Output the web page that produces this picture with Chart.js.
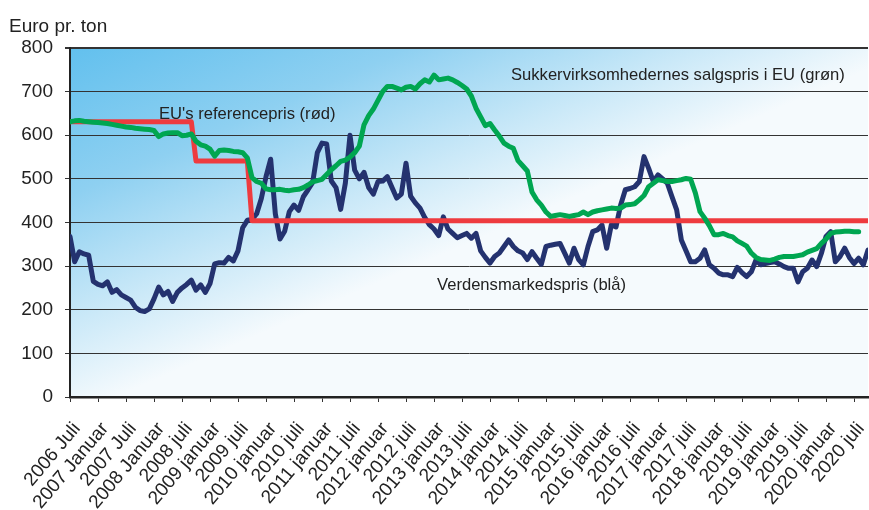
<!DOCTYPE html>
<html>
<head>
<meta charset="utf-8">
<script src="https://cdn.jsdelivr.net/npm/chart.js@4.4.1/dist/chart.umd.min.js"></script>
<style>
html, body { margin: 0; padding: 0; background: #fff; }
#wrap { width: 869px; height: 510px; }
</style>
</head>
<body>
<div id="wrap"><canvas id="sugarChart" width="869" height="510"></canvas></div>
<script>
// x labels every 6 months, starting 2006 Juli (month index 0)
const tickLabels = [
    "2006 Juli", "2007 Januar", "2007 Juli", "2008 Januar", "2008 juli", "2009 januar",
    "2009 juli", "2010 januar", "2010 juli", "2011 januar", "2011 juli", "2012 januar",
    "2012 juli", "2013 januar", "2013 juli", "2014 januar", "2014 juli", "2015 januar",
    "2015 juli", "2016 januar", "2016 juli", "2017 januar", "2017 juli", "2018 januar",
    "2018 juli", "2019 januar", "2019 juli", "2020 januar", "2020 juli"
];

// Sukkervirksomhedernes salgspris i EU (grøn), monthly from 2006 Juli
const euSalesPrice = [
    631, 633, 634, 632, 631, 630, 629, 628, 627, 625, 623, 621,
    619, 618, 616, 615, 614, 613, 611, 597, 603, 605, 606, 606,
    599, 600, 603, 586, 578, 575, 568, 552, 565, 566, 565, 563,
    562, 560, 548, 503, 494, 490, 477, 475, 475, 476, 474, 473,
    475, 476, 480, 486, 493, 496, 499, 510, 521, 530, 540, 543,
    550, 560, 575, 624, 645, 660, 680, 700, 712, 712, 708, 704,
    710, 712, 706, 718, 727, 722, 738, 727, 729, 731, 727, 721,
    714, 706, 690, 662, 642, 622, 627, 612, 598, 582, 575, 570,
    542, 530, 518, 470, 452, 440, 424, 414, 416, 418, 416, 414,
    416, 418, 424, 418, 424, 427, 429, 431, 433, 432, 433, 440,
    441, 443, 452, 462, 482, 490, 498, 496, 494, 494, 496, 498,
    501, 499, 468, 425, 410, 393, 372, 372, 375, 370, 367, 358,
    352, 346, 330, 320, 315, 314, 313, 316, 320, 322, 322, 322,
    324, 326, 332, 336, 340, 352, 362, 375, 378, 379, 380, 380,
    379, 379
];

// EU's referencepris (rød)
const refPrice = [
    631, 631, 631, 631, 631, 631, 631, 631, 631, 631, 631, 631,
    631, 631, 631, 631, 631, 631, 631, 631, 631, 631, 631, 631,
    631, 631, 631, 541, 541, 541, 541, 541, 541, 541, 541, 541,
    541, 541, 541, 404, 404, 404, 404, 404, 404, 404, 404, 404,
    404, 404, 404, 404, 404, 404, 404, 404, 404, 404, 404, 404,
    404, 404, 404, 404, 404, 404, 404, 404, 404, 404, 404, 404,
    404, 404, 404, 404, 404, 404, 404, 404, 404, 404, 404, 404,
    404, 404, 404, 404, 404, 404, 404, 404, 404, 404, 404, 404,
    404, 404, 404, 404, 404, 404, 404, 404, 404, 404, 404, 404,
    404, 404, 404, 404, 404, 404, 404, 404, 404, 404, 404, 404,
    404, 404, 404, 404, 404, 404, 404, 404, 404, 404, 404, 404,
    404, 404, 404, 404, 404, 404, 404, 404, 404, 404, 404, 404,
    404, 404, 404, 404, 404, 404, 404, 404, 404, 404, 404, 404,
    404, 404, 404, 404, 404, 404, 404, 404, 404, 404, 404, 404,
    404, 404, 404, 404
];

// Verdensmarkedspris (blå)
const worldPrice = [
    368, 310, 333, 328, 325, 265, 258, 255, 264, 240, 246, 234,
    228, 222, 206, 198, 196, 202, 225, 252, 234, 242, 219, 240,
    250, 258, 268, 245, 257, 240, 260, 305, 308, 307, 320, 312,
    335, 388, 405, 407, 420, 455, 505, 545, 420, 362, 380, 425,
    440, 428, 459, 475, 492, 560, 582, 580, 495, 480, 430, 490,
    600, 520, 500, 515, 480, 465, 494, 495, 505, 480, 456, 465,
    536, 460, 445, 433, 412, 395, 385, 370, 413, 385, 375, 365,
    370, 375, 364, 375, 335, 320, 307, 322, 330, 345, 360, 345,
    335, 330, 315, 333, 318, 304, 345, 348, 350, 352, 330, 307,
    341, 315, 303, 345, 379, 383, 394, 341, 395, 390, 440, 475,
    478, 482, 494, 551, 524, 494, 509, 500, 490, 459, 429, 360,
    335, 310, 310, 318, 337, 303, 295, 284, 280, 280, 276, 297,
    285, 276, 287, 314, 303, 306, 308, 310, 305, 299, 295, 295,
    264, 287, 295, 314, 299, 329, 368, 379, 310, 322, 341, 320,
    306, 318, 303, 337
];

const FONT = "'Liberation Sans', Arial, sans-serif";

function toPoints(values) {
    return values.map((v, i) => ({ x: i, y: v }));
}

const backgroundFill = {
    id: 'backgroundFill',
    beforeDraw(chart) {
        const { ctx, chartArea: a } = chart;
        const g = ctx.createLinearGradient(a.left, a.top, a.left + 135, a.top + 310);
        g.addColorStop(0, '#62c0ee');
        g.addColorStop(0.4, '#8ed0f1');
        g.addColorStop(0.75, '#cbe9f8');
        g.addColorStop(1, '#f5fafd');
        ctx.save();
        ctx.fillStyle = g;
        ctx.fillRect(a.left, a.top, a.right - a.left, a.bottom - a.top);
        ctx.restore();
    }
};

const captions = {
    id: 'captions',
    afterDraw(chart) {
        const ctx = chart.ctx;
        ctx.save();
        ctx.fillStyle = '#222';
        ctx.textBaseline = 'alphabetic';
        ctx.textAlign = 'left';
        ctx.font = '19px ' + FONT;
        ctx.fillText('Euro pr. ton', 9, 32);
        ctx.font = '16.6px ' + FONT;
        ctx.fillText("EU's referencepris (rød)", 159, 119);
        ctx.fillText('Sukkervirksomhedernes salgspris i EU (grøn)', 511, 80);
        ctx.fillText('Verdensmarkedspris (blå)', 437, 290);
        ctx.restore();
    }
};

new Chart(document.getElementById('sugarChart'), {
    type: 'line',
    data: {
        datasets: [
            {
                label: 'Sukkervirksomhedernes salgspris i EU',
                data: toPoints(euSalesPrice),
                borderColor: '#00a651',
                borderWidth: 5
            },
            {
                label: "EU's referencepris",
                data: toPoints(refPrice),
                borderColor: '#ee3b3f',
                borderWidth: 5
            },
            {
                label: 'Verdensmarkedspris',
                data: toPoints(worldPrice),
                borderColor: '#24326f',
                borderWidth: 5
            }
        ]
    },
    options: {
        responsive: false,
        animation: false,
        devicePixelRatio: 1,
        layout: { padding: { top: 48, right: 1, left: 0, bottom: 0 } },
        elements: {
            point: { radius: 0 },
            line: { tension: 0, borderJoinStyle: 'round', borderCapStyle: 'round', fill: false }
        },
        plugins: {
            legend: { display: false },
            tooltip: { enabled: false }
        },
        scales: {
            x: {
                type: 'linear',
                min: 0,
                max: 171,
                ticks: {
                    stepSize: 6,
                    includeBounds: false,
                    autoSkip: false,
                    minRotation: 50,
                    maxRotation: 50,
                    padding: 16,
                    labelOffset: 7,
                    color: '#222',
                    font: { family: FONT, size: 19 },
                    callback: v => tickLabels[v / 6] ?? ''
                },
                grid: { drawOnChartArea: false, drawTicks: true, tickLength: 5, color: '#333' },
                border: { color: '#222', width: 2.5 },
                afterFit: s => {
                    s.height = 113;
                    s.paddingLeft = 0;
                    s.paddingRight = 0;
                }
            },
            y: {
                min: 0,
                max: 800,
                ticks: {
                    stepSize: 100,
                    padding: 12,
                    color: '#222',
                    font: { family: FONT, size: 19 }
                },
                grid: {
                    color: '#333',
                    lineWidth: c => (c.tick && c.tick.value === 800 ? 2 : 1),
                    tickLength: 5
                },
                border: { color: '#222', width: 2 },
                afterFit: s => { s.width = 70; }
            }
        }
    },
    plugins: [backgroundFill, captions]
});
</script>
</body>
</html>
